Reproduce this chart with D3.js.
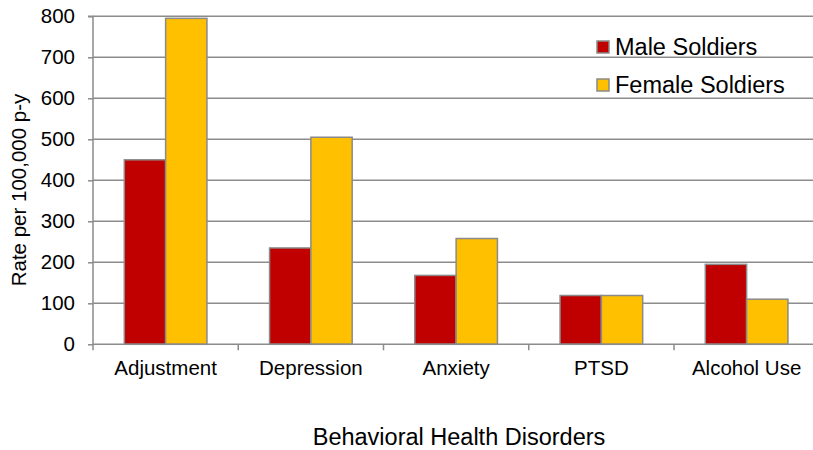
<!DOCTYPE html>
<html><head><meta charset="utf-8">
<script src="https://cdn.jsdelivr.net/npm/d3@7/dist/d3.min.js"></script>
<style>
html,body{margin:0;padding:0;background:#fff;}
svg{display:block;font-family:Arial,"Liberation Sans",sans-serif;}
</style></head>
<body>
<svg id="c" width="813" height="450"></svg>
<script>
const categories = ["Adjustment","Depression","Anxiety","PTSD","Alcohol Use"];
const seriesNames = ["Male Soldiers","Female Soldiers"];
const maleValues = [450, 235, 168, 119, 195];
const femaleValues = [795, 505, 258, 119, 110];
const yTicks = [0,100,200,300,400,500,600,700,800];
const colors = ["#C00000","#FFC000"];

const svg = d3.select("#c");
const plotLeft = 93, plotTop = 16.3, plotBottom = 344.3, step = 145.25;
const x = d3.scaleBand().domain(categories).range([plotLeft, plotLeft + step*categories.length]).paddingInner(0).paddingOuter(0);
const xs = d3.scaleBand().domain(seriesNames).range([0, x.bandwidth()]).paddingInner(0).paddingOuter(0.758);
const y = d3.scaleLinear().domain([0,800]).range([plotBottom, plotTop]);

const gridColor = "#8c8c8c";
// gridlines
svg.append("g").selectAll("line").data(yTicks.filter(d=>d>0)).join("line")
  .attr("x1", plotLeft).attr("x2", 813).attr("y1", d=>y(d)).attr("y2", d=>y(d))
  .attr("stroke", gridColor).attr("stroke-width", 1.5);

// y axis
const yAxis = svg.append("g").attr("transform", `translate(${plotLeft},0)`)
  .call(d3.axisLeft(y).tickValues(yTicks).tickSize(5).tickPadding(13));
yAxis.select(".domain").attr("stroke", gridColor).attr("stroke-width",1.5).attr("d", `M-5,${plotTop}H0V${plotBottom}`);
yAxis.selectAll(".tick line").attr("stroke", gridColor).attr("stroke-width",1.5);
yAxis.selectAll("text").attr("font-size", "20.5px").attr("fill","#000").attr("font-family","Arial, 'Liberation Sans', sans-serif");

// bars
const data = categories.map((c,i)=>({c, vals:[maleValues[i], femaleValues[i]]}));
const groups = svg.append("g").selectAll("g").data(data).join("g")
  .attr("transform", d=>`translate(${x(d.c)},0)`);
groups.selectAll("rect").data(d=>d.vals.map((v,j)=>({s:seriesNames[j], v, j}))).join("rect")
  .attr("x", d=>xs(d.s)).attr("width", xs.bandwidth())
  .attr("y", d=>y(d.v)).attr("height", d=>y(0)-y(d.v))
  .attr("fill", d=>colors[d.j]).attr("stroke", "#8a8a8a").attr("stroke-width", 1.5);

// x axis
const xAxis = svg.append("g").attr("transform", `translate(0,${plotBottom})`)
  .call(d3.axisBottom(x).tickSize(0).tickPadding(16));
xAxis.select(".domain").attr("stroke", gridColor).attr("stroke-width",1.5).attr("d", `M${plotLeft},0H813`);
xAxis.selectAll("text").attr("font-size","20.5px").attr("fill","#000").attr("font-family","Arial, 'Liberation Sans', sans-serif");
// category boundary ticks
const bounds = d3.range(categories.length+1).map(i=> plotLeft + i*x.step());
svg.append("g").selectAll("line").data(bounds.filter(b=>b<813)).join("line")
  .attr("x1", d=>d).attr("x2", d=>d).attr("y1", plotBottom).attr("y2", plotBottom+6)
  .attr("stroke", gridColor).attr("stroke-width",1.5);

// axis titles
svg.append("text").attr("x", 459).attr("y", 437).attr("text-anchor","middle").attr("dominant-baseline","central")
  .attr("font-size","23.5px").text("Behavioral Health Disorders");
svg.append("text").attr("transform","translate(18,190) rotate(-90)").attr("text-anchor","middle").attr("dominant-baseline","central")
  .attr("font-size","20.5px").text("Rate per 100,000 p-y");

// legend
const lg = svg.append("g").selectAll("g").data(seriesNames).join("g")
  .attr("transform", (d,i)=>`translate(597,${47 + i*38})`);
lg.append("rect").attr("x",0).attr("y",-6).attr("width",12).attr("height",12)
  .attr("fill", (d,i)=>colors[i]).attr("stroke","#8a8a8a").attr("stroke-width",1.5);
lg.append("text").attr("x",18).attr("y",0).attr("dominant-baseline","central")
  .attr("font-size","23.5px").text(d=>d);
</script>
</body></html>
